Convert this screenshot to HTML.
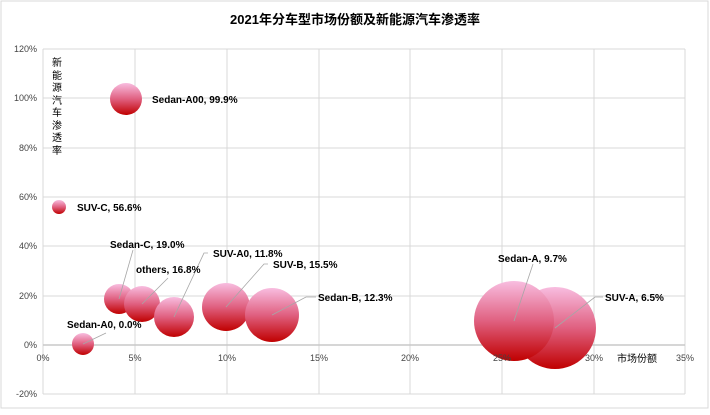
<!DOCTYPE html><html><head><meta charset="utf-8"><style>
body{margin:0;background:#fff}
text{font-family:"Liberation Sans","Noto Sans CJK SC",sans-serif}
.t{font-size:9px;fill:#444}
.l{font-size:10px;font-weight:bold;fill:#000}
</style></head><body>
<svg width="710" height="410" xmlns="http://www.w3.org/2000/svg">
<defs><linearGradient id="g" x1="0" y1="0" x2="0" y2="1"><stop offset="0" stop-color="#f8bde0"/><stop offset="0.5" stop-color="#e06080"/><stop offset="1" stop-color="#c00000"/></linearGradient></defs>
<rect x="1" y="1" width="707" height="407" fill="#fff" stroke="#d9d9d9"/>
<text x="355" y="24" text-anchor="middle" style="font-size:13px;font-weight:bold">2021年分车型市场份额及新能源汽车渗透率</text>
<g stroke="#d9d9d9" stroke-width="1">
<line x1="43" y1="49" x2="685" y2="49"/><line x1="43" y1="98" x2="685" y2="98"/><line x1="43" y1="148" x2="685" y2="148"/><line x1="43" y1="197" x2="685" y2="197"/><line x1="43" y1="246" x2="685" y2="246"/><line x1="43" y1="296" x2="685" y2="296"/><line x1="43" y1="394" x2="685" y2="394"/>
<line x1="135" y1="49" x2="135" y2="394"/><line x1="227" y1="49" x2="227" y2="394"/><line x1="319" y1="49" x2="319" y2="394"/><line x1="410" y1="49" x2="410" y2="394"/><line x1="502" y1="49" x2="502" y2="394"/><line x1="594" y1="49" x2="594" y2="394"/><line x1="685" y1="49" x2="685" y2="394"/>
<line x1="43" y1="49" x2="43" y2="394"/>
</g>
<line x1="43" y1="345" x2="685" y2="345" stroke="#c8c8c8" stroke-width="1.5"/>
<g class="t" text-anchor="end">
<text x="37" y="52">120%</text><text x="37" y="101">100%</text><text x="37" y="151">80%</text><text x="37" y="200">60%</text><text x="37" y="249">40%</text><text x="37" y="299">20%</text><text x="37" y="348">0%</text><text x="37" y="397">-20%</text>
</g>
<g style="font-size:10px" text-anchor="middle">
<text x="57" y="66">新</text><text x="57" y="79">能</text><text x="57" y="91">源</text><text x="57" y="104">汽</text><text x="57" y="116">车</text><text x="57" y="129">渗</text><text x="57" y="141">透</text><text x="57" y="154">率</text>
</g>
<g fill="url(#g)">
<circle cx="126" cy="99" r="16"/><circle cx="59" cy="207" r="7"/><circle cx="83" cy="344" r="11"/>
<circle cx="119" cy="299" r="15"/><circle cx="142" cy="304" r="18"/><circle cx="174" cy="317" r="20"/>
<circle cx="226" cy="307" r="24"/><circle cx="272" cy="315" r="27"/>
<circle cx="555" cy="328" r="41"/><circle cx="514" cy="321" r="40"/>
</g>
<g class="t" text-anchor="middle">
<text x="43" y="361">0%</text><text x="135" y="361">5%</text><text x="227" y="361">10%</text><text x="319" y="361">15%</text><text x="410" y="361">20%</text><text x="502" y="361">25%</text><text x="594" y="361">30%</text><text x="685" y="361">35%</text>
</g>
<text x="637" y="362" text-anchor="middle" style="font-size:10px">市场份额</text>
<g stroke="#a6a6a6" stroke-width="0.8" fill="none">
<line x1="119" y1="299" x2="133" y2="250"/><line x1="142" y1="304" x2="168" y2="278"/>
<polyline points="174,317 204,253 208,253"/><polyline points="226,307 264,264 268,264"/>
<polyline points="272,315 306,297 316,297"/><polyline points="83,344 106,333"/>
<line x1="514" y1="321" x2="533" y2="264"/><polyline points="555,328 595,297 603,297"/>
</g>
<g class="l">
<text x="152" y="103">Sedan-A00, 99.9%</text><text x="77" y="211">SUV-C, 56.6%</text>
<text x="110" y="248">Sedan-C, 19.0%</text><text x="136" y="273">others, 16.8%</text>
<text x="213" y="257">SUV-A0, 11.8%</text><text x="273" y="268">SUV-B, 15.5%</text>
<text x="318" y="301">Sedan-B, 12.3%</text><text x="67" y="328">Sedan-A0, 0.0%</text>
<text x="498" y="262">Sedan-A, 9.7%</text><text x="605" y="301">SUV-A, 6.5%</text>
</g>
</svg></body></html>
